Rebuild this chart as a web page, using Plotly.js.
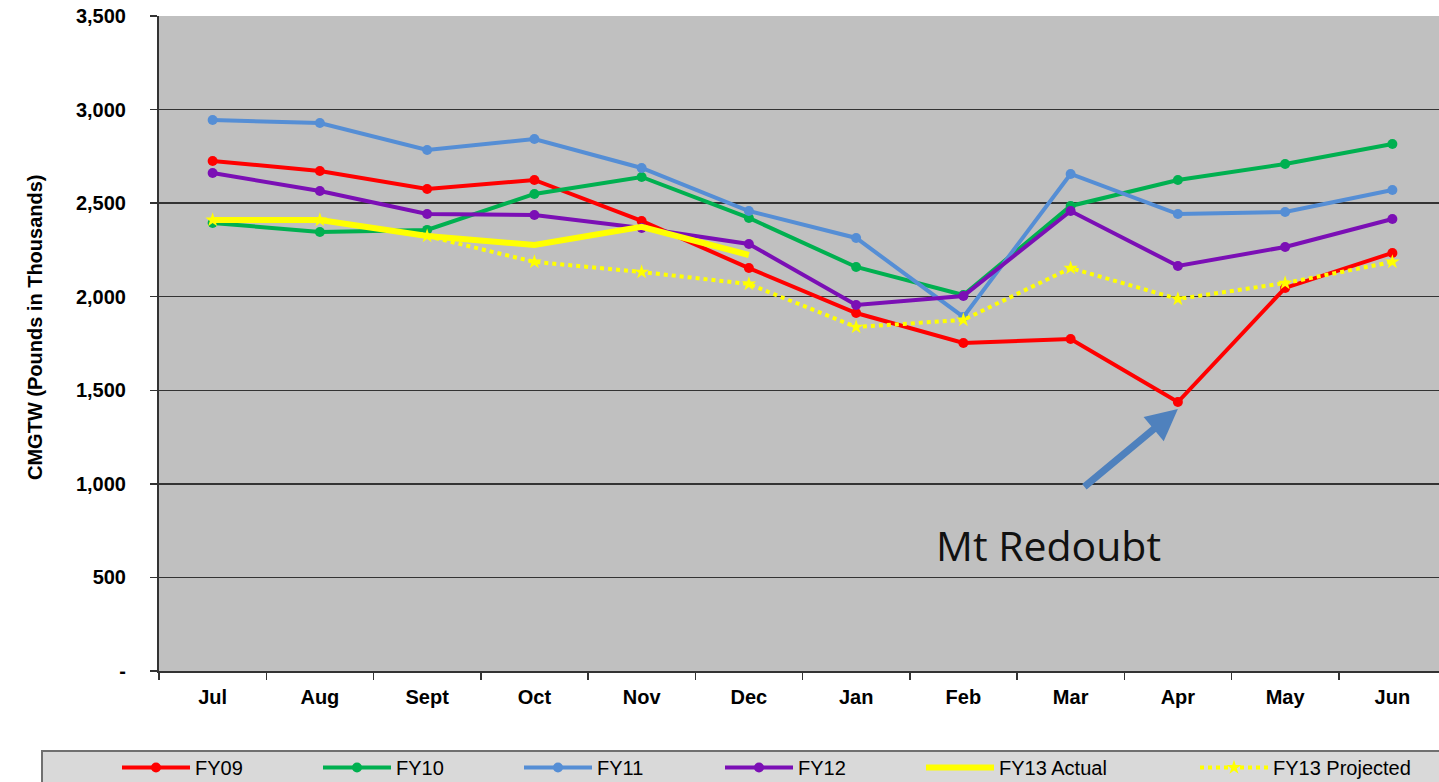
<!DOCTYPE html>
<html><head><meta charset="utf-8">
<script src="https://cdn.plot.ly/plotly-3.0.1.min.js"></script>
<style>html,body{margin:0;padding:0;overflow:hidden;background:#fff;}#chart{width:1446px;height:782px;}</style>
</head><body><div id="chart"></div>
<script>
const months = ["Jul","Aug","Sept","Oct","Nov","Dec","Jan","Feb","Mar","Apr","May","Jun"];
const fy09 = [2725,2672,2576,2624,2405,2153,1913,1753,1774,1437,2047,2234];
const fy10 = [2394,2346,2357,2549,2640,2421,2159,2009,2485,2624,2709,2816];
const fy11 = [2944,2928,2784,2843,2688,2458,2314,1892,2656,2442,2453,2570];
const fy12 = [2661,2565,2442,2437,2367,2282,1956,2004,2458,2164,2266,2415];
const fy13Actual = [2410,2410,2324,2276,2373,2223];
const fy13Projected = [2410,2410,2324,2186,2132,2068,1838,1876,2153,1988,2073,2186];
const yTickVals = [0,500,1000,1500,2000,2500,3000,3500];
const yTickText = ["-","500","1,000","1,500","2,000","2,500","3,000","3,500"];

function s(name, y, color, rank){
  return {x: months.slice(0,y.length), y: y, name: name, type:'scatter', mode:'lines+markers', legendrank: rank,
    line:{color:color, width:4}, marker:{color:color, size:10, symbol:'circle'}};
}
const traces = [
  s('FY09', fy09, '#ff0000', 1),
  s('FY10', fy10, '#00b050', 2),
  s('FY11', fy11, '#558ed5', 3),
  s('FY12', fy12, '#7b0fb5', 4),
  {x: months, y: fy13Projected, name:'FY13 Projected', type:'scatter', mode:'lines+markers', legend:'legend2',
    line:{color:'#ffff00', width:4, dash:'dot'}, marker:{color:'#ffff00', size:11, symbol:'star'}},
  {x: months.slice(0,fy13Actual.length), y: fy13Actual, name:'FY13 Actual', type:'scatter', mode:'lines', legendrank: 5,
    line:{color:'#ffff00', width:6}},
];

const F = 'Liberation Sans, Arial, sans-serif';
const px = v => (v-159)/1287;
const py = v => (671-v)/655;
const legendBase = {orientation:'h', xanchor:'left', y:py(748), yanchor:'top', bgcolor:'rgba(0,0,0,0)',
    borderwidth:0, itemwidth:68, font:{family:F, size:20, color:'#000'}, traceorder:'normal'};
const layout = {
  width:1446, height:782,
  margin:{l:159, r:0, t:16, b:111, autoexpand:false},
  paper_bgcolor:'#ffffff', plot_bgcolor:'#c0c0c0',
  showlegend:true,
  font:{family:F},
  xaxis:{type:'category', categoryarray: months, range:[-0.5,11.5], showgrid:false,
    ticks:'outside', tickson:'boundaries', ticklen:7, tickcolor:'#333', tickwidth:1.5,
    showline:true, linecolor:'#333', linewidth:2, ticklabelstandoff:7,
    tickfont:{family:F, size:20, color:'#000', weight:'bold'}},
  yaxis:{range:[0,3500], tickvals:yTickVals, ticktext:yTickText, showgrid:true, gridcolor:'#333', gridwidth:1.5,
    ticks:'outside', ticklen:7, tickcolor:'#333', tickwidth:1.5, showline:true, linecolor:'#333', linewidth:2,
    zeroline:false, ticklabelstandoff:20,
    tickfont:{family:F, size:20, color:'#000', weight:'bold'}},
  legend:Object.assign({}, legendBase, {x:px(117), entrywidth:118, entrywidthmode:'pixels'}),
  legend2:Object.assign({}, legendBase, {x:px(1195)}),
  shapes:[{type:'rect', xref:'paper', yref:'paper', x0:px(42), x1:1.01, y0:py(795), y1:py(751),
    fillcolor:'#d9d9d9', line:{color:'#707070', width:2}, layer:'below'}],
  annotations:[
    {xref:'paper', yref:'paper', x:px(22), y:py(327), text:'CMGTW (Pounds in Thousands)', textangle:-90,
      showarrow:false, font:{family:F, size:20, color:'#000', weight:'bold'}},
    {x:9, y:1400, xref:'x', yref:'y', ax:-95, ay:79, showarrow:true, arrowhead:2, arrowsize:0.9,
      arrowwidth:7, arrowcolor:'#4f81bd', text:''},
    {x:7.79, y:673, xref:'x', yref:'y', showarrow:false, text:'Mt Redoubt',
      font:{family:'Open Sans, sans-serif', size:41, color:'#111'}}
  ]
};
Plotly.newPlot('chart', traces, layout, {displayModeBar:false, staticPlot:true});
</script></body></html>
